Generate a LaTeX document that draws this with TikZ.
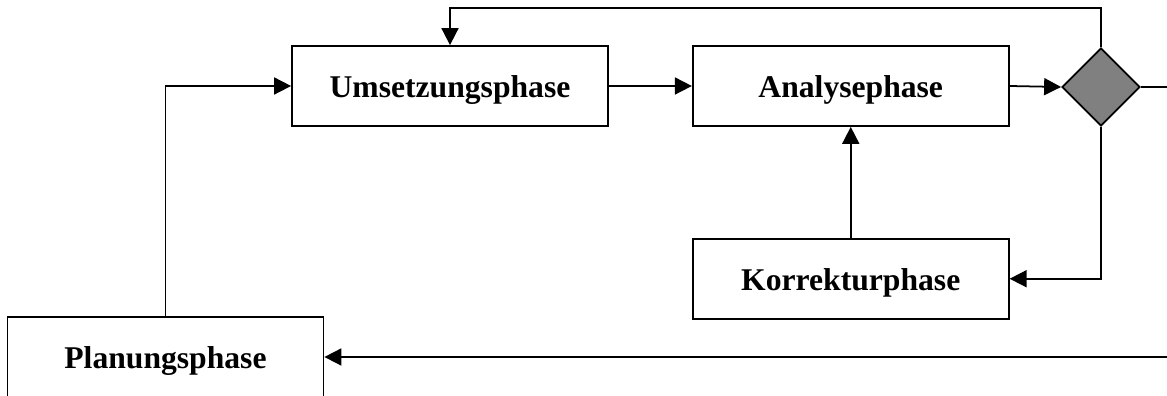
\documentclass[tikz,border=0pt]{standalone}
\usepackage{fontspec}
\setmainfont{Liberation Serif}
\usepackage{tikz}
\usetikzlibrary{arrows.meta,positioning,shapes.geometric}
\definecolor{Ink}{HTML}{000000}
\definecolor{Gate}{HTML}{808080}
\tikzset{
  phase/.style={draw=Ink,fill=white,line width=1pt,minimum width=6.32cm,minimum height=1.6cm,align=center,text height=13.6pt,text depth=0pt,font=\fontsize{18}{22}\selectfont\bfseries},
  gate/.style={diamond,draw=Ink,fill=Gate,line width=1pt,inner sep=0pt,minimum width=1.56cm,minimum height=1.56cm},
  flow/.style={-{Triangle[length=3.4mm,width=3.4mm]},draw=Ink,line width=1pt},
  plainline/.style={draw=Ink,line width=1pt}
}
\begin{document}
\begin{tikzpicture}
      \useasboundingbox (0,0) rectangle (23.34,7.92);
      \clip (0,0) rectangle (23.34,7.92);
      \node[phase] (um) at (9.0,6.2) {Umsetzungsphase};
      \node[phase,right=1.66cm of um] (an) {Analysephase};
      \node[gate] (gt) at (22.02,6.18) {};
      \node[phase,below=2.22cm of an] (ko) {Korrekturphase};
      \node[phase] (pl) at (3.31,0.78) {Planungsphase};
      \coordinate (east) at (23.34,6.18);
      \coordinate (back) at (23.34,0.78);
      \coordinate (top) at (22.02,7.76);
      \draw[flow] (um) -- (an);
      \draw[flow] (an.east) -- (gt.west);
      \draw[plainline] (gt.east) -- (east);
      \draw[flow] (gt.north) |- (top) -| (um.north);
      \draw[flow] (gt.south) |- (ko.east);
      \draw[flow] (ko) -- (an);
      \draw[flow] (back) -- (pl.east);
      \draw[flow] (pl.north) |- (um.west);
    \end{tikzpicture}
\end{document}
